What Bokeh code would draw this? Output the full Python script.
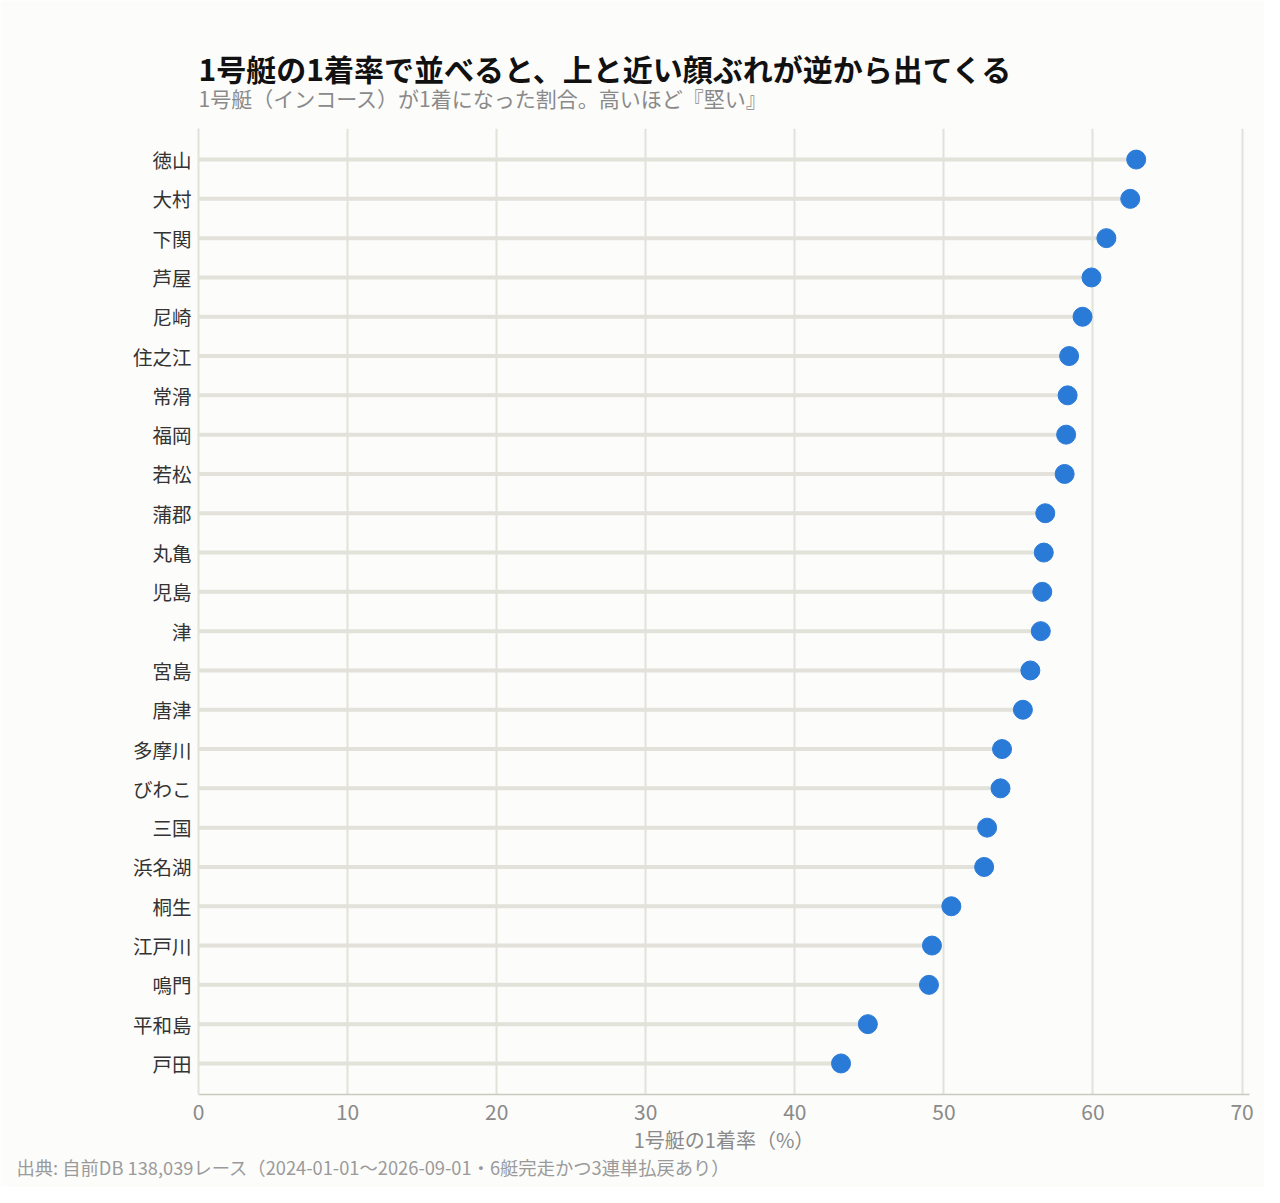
from bokeh.plotting import figure
from bokeh.models import FactorRange, Range1d, Title, ColumnDataSource
from bokeh.embed import file_html
from bokeh.resources import INLINE

venues = ["徳山", "大村", "下関", "芦屋", "尼崎", "住之江", "常滑", "福岡", "若松", "蒲郡",
          "丸亀", "児島", "津", "宮島", "唐津", "多摩川", "びわこ", "三国", "浜名湖", "桐生",
          "江戸川", "鳴門", "平和島", "戸田"]
win_rate = [62.9, 62.5, 60.9, 59.9, 59.3, 58.4, 58.3, 58.2, 58.1, 56.8,
            56.7, 56.6, 56.5, 55.8, 55.3, 53.9, 53.8, 52.9, 52.7, 50.5,
            49.2, 49.0, 44.9, 43.1]
x_ticks = [0, 10, 20, 30, 40, 50, 60, 70]

FONT = "Noto Sans CJK JP"
BG = "#fcfcfa"
GRID = "#e2e2da"

src = ColumnDataSource(dict(venue=venues, rate=win_rate, zero=[0] * len(venues)))

p = figure(width=1264, height=1187,
           y_range=FactorRange(factors=venues[::-1], range_padding=0.29,
                               range_padding_units="absolute"),
           x_range=Range1d(0, 70.5),
           output_backend="svg", toolbar_location=None, title=None,
           min_border_left=198, min_border_right=15, min_border_top=128,
           min_border_bottom=93)

p.background_fill_color = BG
p.border_fill_color = BG
p.outline_line_color = None

p.segment(x0="zero", y0="venue", x1="rate", y1="venue", source=src,
          line_color=GRID, line_width=4)
p.scatter(x="rate", y="venue", source=src, size=19, fill_color="#2a7ad8",
          line_color="#2a7ad8")

# grid
p.ygrid.grid_line_color = None
p.xgrid.grid_line_color = GRID
p.xgrid.grid_line_width = 2
p.xaxis.ticker = x_ticks

# x axis
p.xaxis.axis_line_color = "#c9c9c0"
p.xaxis.axis_line_width = 1.5
p.xaxis.major_tick_line_color = None
p.xaxis.minor_tick_line_color = None
p.xaxis.major_label_text_font = FONT
p.xaxis.major_label_text_font_size = "21px"
p.xaxis.major_label_text_color = "#8a8a8a"
p.xaxis.major_label_standoff = 3
p.xaxis.axis_label = "1号艇の1着率（%）"
p.xaxis.axis_label_text_font = FONT
p.xaxis.axis_label_text_font_size = "20px"
p.xaxis.axis_label_text_font_style = "normal"
p.xaxis.axis_label_text_color = "#8a8a8a"
p.xaxis.axis_label_standoff = 2

# y axis
p.yaxis.axis_line_color = GRID
p.yaxis.axis_line_width = 2
p.yaxis.major_tick_line_color = None
p.yaxis.minor_tick_line_color = None
p.yaxis.major_label_text_font = FONT
p.yaxis.major_label_text_font_size = "19.5px"
p.yaxis.major_label_text_color = "#333333"
p.yaxis.major_label_standoff = 1

# source note
p.add_layout(Title(text="出典: 自前DB 138,039レース（2024-01-01〜2026-09-01・6艇完走かつ3連単払戻あり）",
                   align="left", offset=-182, text_font=FONT, text_font_size="18.3px",
                   text_font_style="normal", text_color="#9a9a9a", standoff=-10), "below")

# titles
p.add_layout(Title(text="1号艇（インコース）が1着になった割合。高いほど『堅い』",
                   align="left", text_font=FONT, text_font_size="21px",
                   text_font_style="normal", text_color="#8a8a8a", standoff=32), "above")
p.add_layout(Title(text="1号艇の1着率で並べると、上と近い顔ぶれが逆から出てくる",
                   align="left", text_font=FONT, text_font_size="30px",
                   text_font_style="bold", text_color="#111111", standoff=-50), "above")

open("out.html", "w").write(file_html(p, INLINE))
